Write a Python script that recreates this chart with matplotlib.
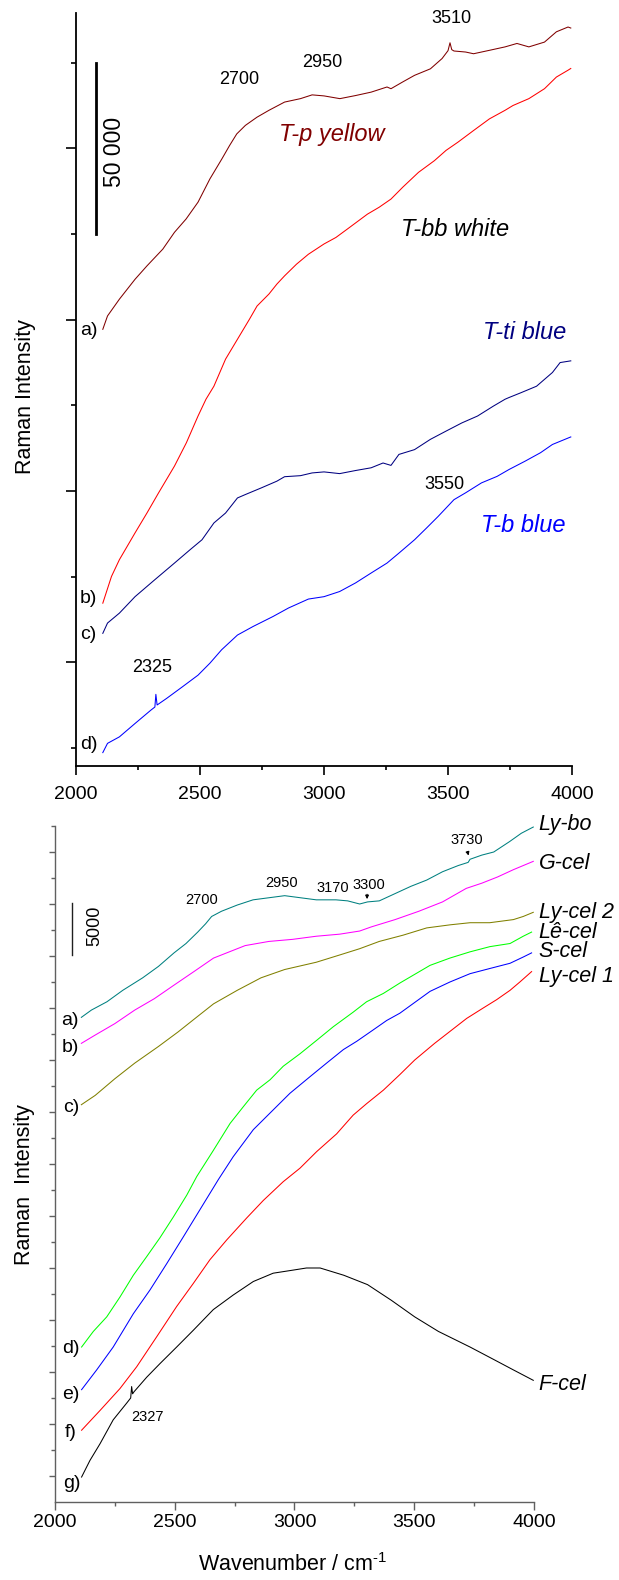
import matplotlib.pyplot as plt
from matplotlib.ticker import MultipleLocator, FixedLocator, NullFormatter

plt.rcParams['font.family'] = ['Liberation Sans', 'DejaVu Sans']
plt.rcParams['mathtext.fontset'] = 'custom'
plt.rcParams['mathtext.rm'] = 'Liberation Sans'

# ---- top panel (intensity in thousands of counts)
tp_yellow_x = [2108, 2127, 2175, 2238, 2286, 2350, 2397, 2444, 2492, 2540, 2588, 2619, 2648, 2683,
               2730, 2778, 2841, 2905, 2952, 3000, 3064, 3127, 3190, 3254, 3270, 3318, 3365, 3429,
               3476, 3500, 3508, 3515, 3524, 3571, 3603, 3667, 3730, 3778, 3826, 3889, 3937, 3984, 3995]
tp_yellow_y = [122.2, 126.1, 131.0, 136.8, 140.7, 145.6, 150.5, 154.4, 159.3, 166.1, 171.9, 175.8, 179.2, 181.7,
               184.1, 186.1, 188.5, 189.5, 190.6, 190.3, 189.5, 190.4, 191.4, 192.9, 192.4, 194.4, 196.3, 198.2,
               201.2, 203.5, 205.8, 203.8, 203.4, 203.1, 202.6, 203.6, 204.6, 205.6, 204.6, 206.0, 209.0, 210.4, 210.1]

tbb_white_x = [2108, 2143, 2175, 2238, 2286, 2333, 2397, 2445, 2492, 2524, 2556, 2603, 2651, 2699, 2730,
               2778, 2810, 2841, 2889, 2937, 3000, 3048, 3095, 3175, 3222, 3270, 3318, 3381, 3445, 3492,
               3540, 3603, 3667, 3730, 3762, 3826, 3889, 3937, 3984, 3995]
tbb_white_y = [42.3, 50.1, 55.0, 62.8, 68.6, 74.5, 82.3, 89.1, 96.9, 101.8, 105.6, 113.5, 119.3, 125.1, 129.0,
               132.5, 135.4, 137.8, 141.2, 144.1, 147.1, 149.0, 151.5, 155.8, 157.8, 160.2, 163.7, 168.0, 171.4, 174.4,
               176.8, 180.2, 183.6, 186.1, 187.5, 189.5, 192.4, 195.8, 197.8, 198.3]

tti_blue_x = [2108, 2127, 2175, 2238, 2317, 2397, 2460, 2508, 2556, 2603, 2651, 2683, 2746, 2810, 2841,
              2905, 2952, 3000, 3063, 3127, 3190, 3238, 3270, 3302, 3365, 3429, 3492, 3556, 3619, 3683,
              3730, 3746, 3794, 3857, 3921, 3952, 3995]
tti_blue_y = [33.5, 36.5, 39.4, 44.2, 49.1, 54.0, 57.9, 60.8, 65.7, 68.6, 73.0, 74.0, 75.9, 77.9, 79.2,
              79.5, 80.3, 80.6, 80.1, 81.0, 81.8, 83.2, 82.5, 85.7, 87.1, 90.1, 92.5, 94.9, 96.9, 99.8,
              101.8, 102.3, 103.7, 105.6, 109.6, 112.5, 113.0]

tb_blue_x = [2108, 2127, 2175, 2238, 2302, 2318, 2322, 2327, 2335, 2365, 2429, 2492, 2540, 2587, 2651,
             2714, 2794, 2857, 2937, 3000, 3063, 3127, 3190, 3254, 3302, 3365, 3413, 3460, 3524, 3571,
             3635, 3698, 3746, 3810, 3873, 3921, 3995]
tb_blue_y = [-1.3, 1.4, 3.3, 7.2, 11.1, 12.0, 15.7, 12.6, 13.0, 14.5, 17.9, 21.3, 24.8, 28.7, 33.0,
             35.5, 38.4, 40.9, 43.5, 44.2, 45.7, 48.2, 51.1, 54.0, 56.9, 60.8, 64.2, 67.6, 72.5, 74.5,
             77.4, 79.3, 81.3, 83.7, 86.2, 88.6, 90.8]

# ---- bottom panel (intensity in thousands of counts)
lybo_x = [2110, 2152, 2217, 2283, 2366, 2432, 2497, 2547, 2596, 2629, 2654, 2695, 2761, 2827, 2893,
          2959, 3025, 3091, 3173, 3222, 3272, 3305, 3354, 3420, 3486, 3552, 3618, 3684, 3725, 3733,
          3782, 3832, 3898, 3947, 3997]
lybo_y = [46.6, 47.3, 48.1, 49.2, 50.4, 51.5, 52.8, 53.7, 54.8, 55.6, 56.3, 56.8, 57.4, 57.9, 58.1,
          58.3, 58.1, 57.9, 57.9, 57.8, 57.5, 57.7, 57.8, 58.5, 59.2, 59.8, 60.6, 61.2, 61.5, 61.8,
          62.2, 62.5, 63.5, 64.3, 64.9]

gcel_x = [2110, 2168, 2250, 2333, 2415, 2497, 2580, 2662, 2728, 2794, 2893, 2992, 3091, 3189, 3272,
          3321, 3420, 3519, 3618, 3717, 3782, 3848, 3914, 3997]
gcel_y = [44.1, 44.9, 46.0, 47.3, 48.4, 49.7, 51.0, 52.3, 52.9, 53.5, 53.9, 54.1, 54.4, 54.6, 54.9,
          55.3, 56.0, 56.8, 57.7, 59.0, 59.5, 60.1, 60.8, 61.6]

lycel2_x = [2110, 2168, 2250, 2333, 2432, 2514, 2596, 2662, 2761, 2860, 2959, 3091, 3189, 3272, 3354,
            3453, 3552, 3651, 3733, 3815, 3914, 3955, 3997]
lycel2_y = [38.2, 39.1, 40.7, 42.2, 43.8, 45.2, 46.7, 47.9, 49.2, 50.4, 51.2, 51.9, 52.6, 53.2, 53.9,
            54.5, 55.2, 55.5, 55.7, 55.7, 56.0, 56.3, 56.7]

lecel_x = [2111, 2160, 2216, 2271, 2327, 2383, 2438, 2494, 2550, 2592, 2661, 2731, 2786, 2842, 2898,
           2953, 3023, 3093, 3162, 3245, 3301, 3371, 3440, 3566, 3649, 3733, 3816, 3900, 3955, 3990]
lecel_y = [14.9, 16.4, 17.8, 19.7, 21.8, 23.6, 25.4, 27.4, 29.5, 31.3, 33.8, 36.4, 38.0, 39.6, 40.6,
           41.9, 43.1, 44.4, 45.7, 47.1, 48.1, 48.9, 49.9, 51.6, 52.3, 52.9, 53.4, 53.7, 54.4, 54.8]

scel_x = [2111, 2174, 2243, 2327, 2397, 2466, 2536, 2605, 2682, 2744, 2828, 2911, 2981, 3065, 3134,
          3204, 3260, 3329, 3385, 3440, 3566, 3649, 3733, 3816, 3900, 3955, 3990]
scel_y = [10.8, 12.7, 14.9, 18.1, 20.4, 22.9, 25.5, 28.1, 31.0, 33.2, 35.8, 37.7, 39.3, 40.9, 42.2,
          43.5, 44.3, 45.4, 46.3, 47.0, 49.1, 50.0, 50.8, 51.3, 51.8, 52.4, 52.8]

lycel1_x = [2111, 2188, 2271, 2341, 2425, 2508, 2577, 2647, 2717, 2800, 2870, 2953, 3023, 3093, 3176,
            3245, 3301, 3371, 3440, 3502, 3585, 3719, 3788, 3844, 3900, 3941, 3990]
lycel1_y = [6.9, 8.8, 10.9, 13.0, 15.9, 18.8, 21.0, 23.3, 25.2, 27.3, 29.0, 30.8, 32.1, 33.7, 35.4,
            37.2, 38.3, 39.6, 41.1, 42.5, 44.1, 46.5, 47.5, 48.3, 49.2, 50.0, 51.0]

fcel_x = [2111, 2146, 2188, 2243, 2299, 2316, 2320, 2324, 2330, 2383, 2438, 2508, 2577, 2661, 2744,
          2828, 2911, 2995, 3050, 3107, 3206, 3305, 3404, 3502, 3601, 3733, 3832, 3914, 3997]
fcel_y = [2.4, 4.0, 5.6, 7.9, 9.5, 10.0, 11.1, 10.4, 10.6, 12.0, 13.3, 14.9, 16.5, 18.5, 19.9,
          21.2, 22.0, 22.3, 22.5, 22.5, 21.8, 20.9, 19.4, 17.8, 16.4, 14.9, 13.7, 12.7, 11.7]

top_series = [(tp_yellow_x, tp_yellow_y, '#800000'), (tbb_white_x, tbb_white_y, '#ff0000'),
              (tti_blue_x, tti_blue_y, '#000080'), (tb_blue_x, tb_blue_y, '#0000ff')]
bottom_series = [(lybo_x, lybo_y, '#008080'), (gcel_x, gcel_y, '#ff00ff'),
                 (lycel2_x, lycel2_y, '#808000'), (lecel_x, lecel_y, '#00ff00'),
                 (scel_x, scel_y, '#0000ff'), (lycel1_x, lycel1_y, '#ff0000'),
                 (fcel_x, fcel_y, '#000000')]

fig = plt.figure(figsize=(6.19, 15.8), dpi=100)

# ================= top panel
ax1 = fig.add_axes([0.1228, 0.5152, 0.8013, 0.4766])
for xs, ys, c in top_series:
    ax1.plot(xs, ys, color=c, lw=0.75)
ax1.set_xlim(2000, 4000)
ax1.set_ylim(-5.2, 214.5)
for s in ['top', 'right']:
    ax1.spines[s].set_visible(False)
for s in ['left', 'bottom']:
    ax1.spines[s].set_linewidth(1.3)
ax1.xaxis.set_major_locator(MultipleLocator(500))
ax1.xaxis.set_minor_locator(MultipleLocator(250))
ax1.yaxis.set_major_locator(FixedLocator([25, 75, 125, 175]))
ax1.yaxis.set_minor_locator(FixedLocator([0, 50, 100, 150, 200]))
ax1.yaxis.set_major_formatter(NullFormatter())
ax1.tick_params(axis='x', which='major', length=6.5, width=1.2, pad=8, labelsize=14)
ax1.tick_params(axis='x', which='minor', length=3, width=1.2)
ax1.tick_params(axis='y', which='major', length=7.2, width=1.2)
ax1.tick_params(axis='y', which='minor', length=3.6, width=1.2)

ax1.plot([2079, 2079], [150, 200], color='black', lw=2)
ax1.text(2156, 174, '50 000', rotation=90, ha='center', va='center', fontsize=16.5)
for lab, y in [('a)', 122.0), ('b)', 43.8), ('c)', 33.1), ('d)', 1.0)]:
    ax1.text(2051, y, lab, ha='center', va='center', fontsize=14)
for lab, x, y in [('2700', 2659, 195.0), ('2950', 2992, 200.0), ('3510', 3512, 212.8),
                  ('3550', 3484, 76.8), ('2325', 2306, 23.4)]:
    ax1.text(x, y, lab, ha='center', va='center', fontsize=13)
for lab, x, y, c in [('T-p yellow', 3032, 178.9, '#800000'), ('T-bb white', 3528, 151.2, 'black'),
                     ('T-ti blue', 3810, 121.2, '#000080'), ('T-b blue', 3802, 65.1, '#0000ff')]:
    ax1.text(x, y, lab, ha='center', va='center', fontsize=17, style='italic', color=c)
fig.text(26 / 619, 1 - 397 / 1580, 'Raman Intensity', rotation=90, ha='center', va='center', fontsize=15.5)

# ================= bottom panel
ax2 = fig.add_axes([0.08885, 0.04937, 0.77383, 0.42785])
for xs, ys, c in bottom_series:
    ax2.plot(xs, ys, color=c, lw=0.75)
ax2.set_xlim(2000, 4000)
ax2.set_ylim(0, 65)
grey = '#606060'
for s in ['top', 'right']:
    ax2.spines[s].set_visible(False)
for s in ['left', 'bottom']:
    ax2.spines[s].set_linewidth(1.0)
    ax2.spines[s].set_color(grey)
ax2.xaxis.set_major_locator(MultipleLocator(500))
ax2.xaxis.set_minor_locator(MultipleLocator(250))
ax2.yaxis.set_major_locator(FixedLocator([2.5 + 5 * i for i in range(13)]))
ax2.yaxis.set_minor_locator(FixedLocator([5 * (i + 1) for i in range(13)]))
ax2.yaxis.set_major_formatter(NullFormatter())
ax2.tick_params(axis='x', which='major', length=5.8, width=1.0, color=grey, pad=3, labelsize=14)
ax2.tick_params(axis='x', which='minor', length=2.9, width=1.0, color=grey)
ax2.tick_params(axis='y', which='major', length=4.3, width=1.0, color=grey)
ax2.tick_params(axis='y', which='minor', length=2.9, width=1.0, color=grey)

ax2.plot([2071, 2071], [52.6, 57.6], color='#202020', lw=1.0)
ax2.text(2167, 55.4, '5000', rotation=90, ha='center', va='center', fontsize=13)
for lab, x, y in [('a)', 2063, 46.3), ('b)', 2063, 43.7), ('c)', 2067, 37.9), ('d)', 2067, 14.8),
                  ('e)', 2067, 10.3), ('f)', 2067, 6.7), ('g)', 2071, 1.8)]:
    ax2.text(x, y, lab, ha='center', va='center', fontsize=14)
for lab, x, y in [('2700', 2614, 57.9), ('2950', 2948, 59.5), ('3170', 3161, 59.0),
                  ('3300', 3311, 59.3), ('3730', 3720, 63.7), ('2327', 2386, 8.2)]:
    ax2.text(x, y, lab, ha='center', va='center', fontsize=10.5)
ax2.annotate('', xy=(3303, 57.7), xytext=(3303, 58.7),
             arrowprops=dict(arrowstyle='-|>', color='black', lw=0.8, mutation_scale=5))
ax2.annotate('', xy=(3730, 61.9), xytext=(3719, 62.8),
             arrowprops=dict(arrowstyle='-|>', color='black', lw=0.8, mutation_scale=5))
for lab, y in [('Ly-bo', 65.1), ('G-cel', 61.4), ('Ly-cel 2', 56.7), ('Lê-cel', 54.8),
               ('S-cel', 52.9), ('Ly-cel 1', 50.5), ('F-cel', 11.3)]:
    ax2.text(4020, y, lab, ha='left', va='center', fontsize=15.5, style='italic', clip_on=False)
fig.text(25 / 619, 1 - 1185 / 1580, 'Raman  Intensity', rotation=90, ha='center', va='center', fontsize=15.5)
fig.text(293 / 619, 1 - 1565 / 1580, r'Wavenumber / cm$^{\text{-1}}$', ha='center', va='center', fontsize=15.5)

fig.savefig('out.png', dpi=100)
